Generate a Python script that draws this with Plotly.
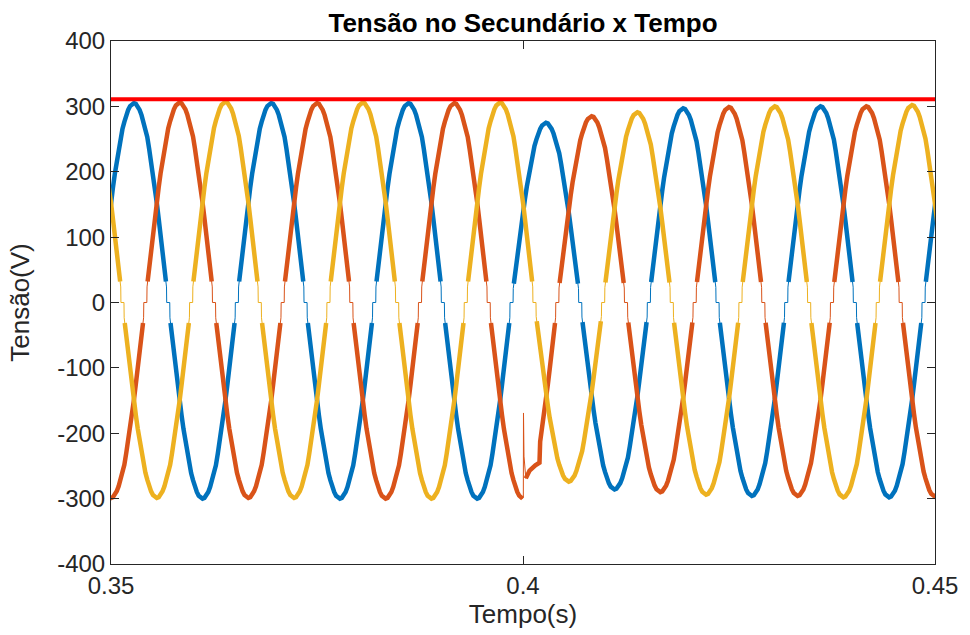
import plotly.graph_objects as go

# ---------------- data ----------------
# extrema (peak times in s, peak voltages in V) of each phase
blue_t = [0.34444, 0.35278, 0.36111, 0.36944, 0.37778, 0.38611, 0.39444,
          0.40278, 0.41111, 0.41944, 0.42778, 0.43611, 0.44444, 0.45278]
blue_v = [-300, 305, -300, 305, -300, 305, -300,
          275, -286, 297, -296, 300, -298, 302]

orange_t = [0.34167, 0.35000, 0.35833, 0.36667, 0.37500, 0.38333, 0.39167,
            0.40000, 0.40833, 0.41667, 0.42500, 0.43333, 0.44167, 0.45000, 0.45833]
orange_v = [305, -299, 306, -299, 305, -300, 305,
            -300, 285, -290, 299, -296, 300, -297, 302]

yellow_t = [0.34722, 0.35556, 0.36389, 0.37222, 0.38056, 0.38889, 0.39722,
            0.40556, 0.41389, 0.42222, 0.43056, 0.43889, 0.44722, 0.45556]
yellow_v = [305, -299, 307, -299, 306, -300, 306,
            -274, 291, -294, 300, -298, 302, -297]

# normalised half-wave shape around a peak (phase from peak in degrees -> fraction of peak)
profile_deg = [0, 5, 10, 15, 20, 25, 30, 35, 40, 45, 50, 55, 60, 65, 70, 75, 80,
               84, 85.5, 86, 90]
profile_val = [1.0, 0.996, 0.985, 0.966, 0.94, 0.906, 0.87, 0.83, 0.77, 0.71, 0.645,
               0.575, 0.50, 0.42, 0.34, 0.26, 0.175, 0.105, 0.078, 0.0, 0.0]

# transient of the orange phase at t = 0.4 s
transient_t = [0.39995, 0.40034, 0.40080, 0.40150, 0.40200]
transient_v = [-300, -269, -257, -249, -245]
spike_t = [0.40004, 0.40006, 0.40012]
spike_v = [-298, -169, -235]

# reference peak level (red line)
ref_t = [0.35, 0.45]
ref_v = [311, 311]

x_ticks = [0.35, 0.40, 0.45]
x_tick_labels = ["0.35", "0.4", "0.45"]
y_ticks = [-400, -300, -200, -100, 0, 100, 200, 300, 400]
y_tick_labels = ["-400", "-300", "-200", "-100", "0", "100", "200", "300", "400"]

colors = {"blue": "#0072BD", "orange": "#D95319", "yellow": "#EDB120"}
THICK_LIMIT = 84  # degrees from the peak where the wide ripple band ends


def build(ext_t, ext_v):
    """Return (t, v, is_thick) points following the read extrema and profile."""
    pts = []
    pairs = list(zip(profile_deg, profile_val))
    for k in range(len(ext_t) - 1):
        t0, t1 = ext_t[k], ext_t[k + 1]
        v0, v1 = ext_v[k], ext_v[k + 1]
        span = t1 - t0
        for d, p in pairs:
            pts.append((t0 + d / 180.0 * span, v0 * p, d <= THICK_LIMIT))
        for d, p in reversed(pairs):
            if d == 0:
                continue
            pts.append((t1 - d / 180.0 * span, v1 * p, d <= THICK_LIMIT))
    pts.append((ext_t[-1], ext_v[-1], True))
    return pts


series = {
    "blue": build(blue_t, blue_v),
    "orange": build(orange_t, orange_v),
    "yellow": build(yellow_t, yellow_v),
}

# insert the orange transient (replace generated points inside the window)
lo, hi = transient_t[0], transient_t[-1]
orange_pts = [p for p in series["orange"] if not (lo <= p[0] <= hi)]
orange_pts += [(t, v, True) for t, v in zip(transient_t, transient_v)]
orange_pts += [(t, v, False) for t, v in zip(spike_t, spike_v)]
orange_pts.sort(key=lambda p: p[0])
series["orange"] = orange_pts

fig = go.Figure()

order = ["blue", "orange", "yellow"]
# thin underlying lines (full signal, including dead zones and spike)
for name in order:
    pts = series[name]
    fig.add_trace(go.Scatter(
        x=[p[0] for p in pts], y=[p[1] for p in pts],
        mode="lines", line=dict(color=colors[name], width=1),
        hoverinfo="skip", showlegend=False))
# wide ripple bands
for name in order:
    pts = series[name]
    fig.add_trace(go.Scatter(
        x=[p[0] for p in pts], y=[p[1] if p[2] else None for p in pts],
        mode="lines", line=dict(color=colors[name], width=4.5),
        connectgaps=False, name=name, showlegend=False))

fig.add_trace(go.Scatter(
    x=ref_t, y=ref_v, mode="lines",
    line=dict(color="#FF0000", width=4), showlegend=False))

font_family = "Liberation Sans, Arial, Helvetica, sans-serif"
axis_color = "#262626"

fig.update_layout(
    width=970, height=635,
    margin=dict(l=111, r=32, t=41, b=71),
    paper_bgcolor="white", plot_bgcolor="white",
    showlegend=False,
    title=dict(
        text="Tensão no Secundário x Tempo",
        x=0.5, xref="paper", xanchor="center",
        y=1 - 23 / 635, yref="container", yanchor="middle",
        font=dict(family=font_family, size=26, color="black", weight="bold")),
    xaxis=dict(
        range=[0.35, 0.45], tickvals=x_ticks, ticktext=x_tick_labels,
        ticks="inside", ticklen=8, tickwidth=1, tickcolor=axis_color,
        showline=True, linecolor=axis_color, linewidth=1, mirror="ticks",
        showgrid=False, zeroline=False,
        tickfont=dict(family=font_family, size=24, color=axis_color),
        title=dict(text="Tempo(s)", standoff=6,
                   font=dict(family=font_family, size=26, color=axis_color))),
    yaxis=dict(
        range=[-400, 400], tickvals=y_ticks, ticktext=y_tick_labels,
        ticks="inside", ticklen=8, tickwidth=1, tickcolor=axis_color,
        showline=True, linecolor=axis_color, linewidth=1, mirror="ticks",
        showgrid=False, zeroline=False,
        tickfont=dict(family=font_family, size=24, color=axis_color),
        title=dict(text="Tensão(V)", standoff=20,
                   font=dict(family=font_family, size=26, color=axis_color))),
)

fig.write_html("out.html")
